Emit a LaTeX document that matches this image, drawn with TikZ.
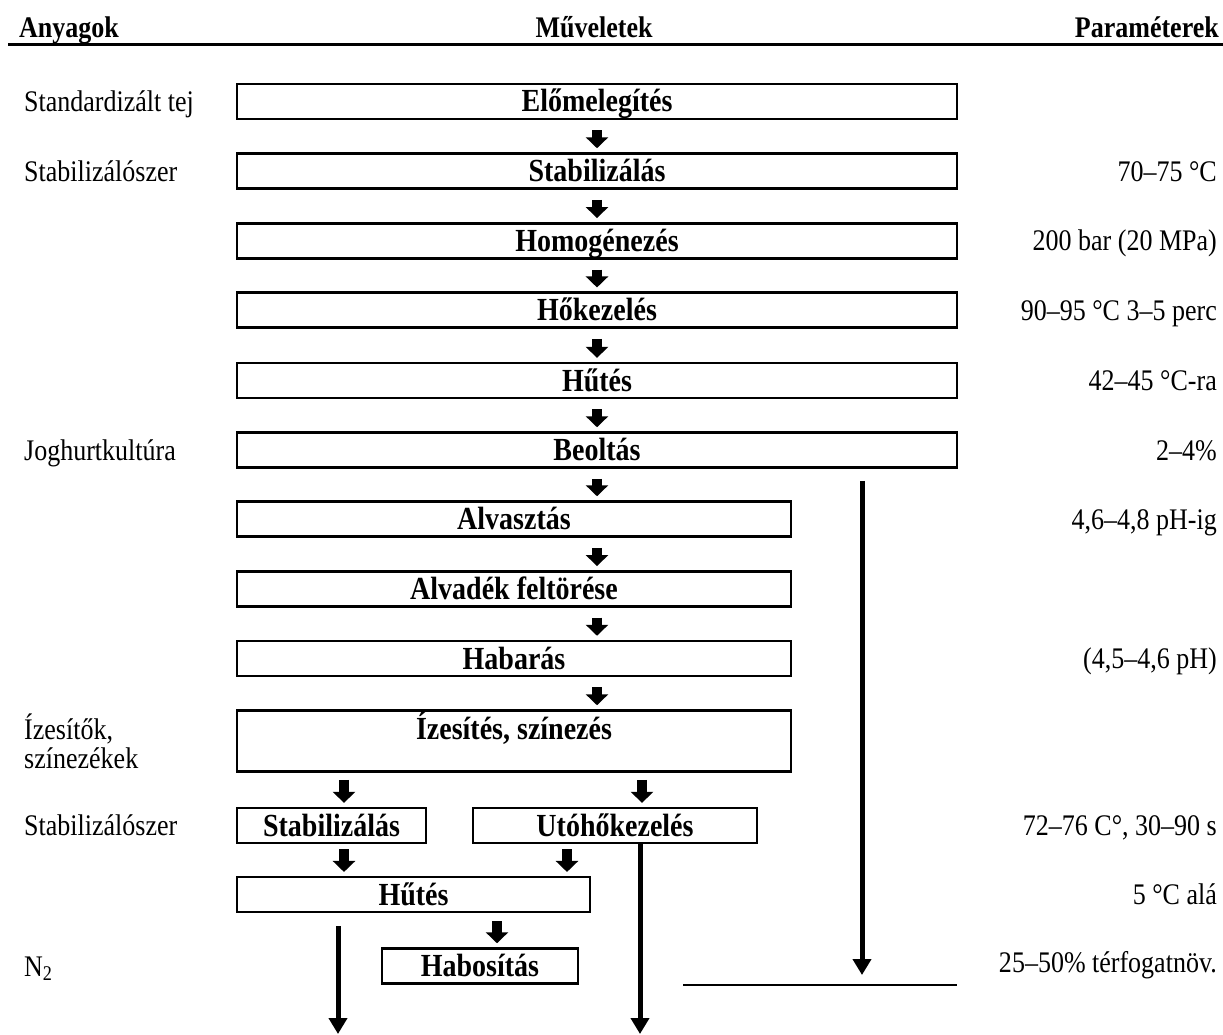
\documentclass[tikz,border=0pt]{standalone}
\usepackage{fontspec}
\setmainfont{Liberation Serif}
\usepackage{graphicx}
\usetikzlibrary{arrows.meta}
\newcommand\vs[1]{\scalebox{1}[1.15]{#1}}
\begin{document}
\begin{tikzpicture}[x=1pt,y=-1pt,
  box/.style={draw,line width=2.5pt,rectangle,inner sep=0pt,minimum height=35pt,
    font=\fontsize{28}{32}\selectfont\bfseries,text height=21pt,text depth=0pt},
  boxtext/.style={font=\fontsize{28}{32}\selectfont\bfseries,inner sep=0pt},
  lab/.style={font=\fontsize{26}{30}\selectfont,inner sep=0pt},
  hdr/.style={font=\fontsize{26}{30}\selectfont\bfseries,inner sep=0pt},
  blk/.style={line width=10pt,-{Triangle[width=22pt,length=11pt]},shorten <=10pt,shorten >=4pt},
  longarr/.style={line width=5pt,-{Triangle[width=18pt,length=16pt]}},
]
\useasboundingbox (0,0) rectangle (1223,1034);

% header
\node[hdr,anchor=base west] (hA) at (19,37) {\vs{Anyagok}};
\node[hdr,anchor=base] (hM) at (594,37) {\vs{Műveletek}};
\node[hdr,anchor=base east] (hP) at (1219,37) {\vs{Paraméterek}};
\coordinate (l1) at (8,44.7);
\coordinate (l2) at (1223,44.7);
\draw[line width=3.5pt] (l1) -- (l2);

% main boxes
\node[box,minimum width=720pt] (b1) at (597,101.3) {\vs{Előmelegítés}};
\node[box,minimum width=720pt] (b2) at (597,171) {\vs{Stabilizálás}};
\node[box,minimum width=720pt] (b3) at (597,240.8) {\vs{Homogénezés}};
\node[box,minimum width=720pt] (b4) at (597,310.2) {\vs{Hőkezelés}};
\node[box,minimum width=720pt] (b5) at (597,380.6) {\vs{Hűtés}};
\node[box,minimum width=720pt] (b6) at (597,450) {\vs{Beoltás}};
\node[box,minimum width=554pt] (b7) at (514,519) {\vs{Alvasztás}};
\node[box,minimum width=554pt] (b8) at (514,588.8) {\vs{Alvadék feltörése}};
\node[box,minimum width=554pt] (b9) at (514,658.5) {\vs{Habarás}};
\node[box,minimum width=554pt,minimum height=61pt] (b10) at (514,741) {};
\node[boxtext,anchor=base] (b10t) at (514,739.6) {\vs{Ízesítés, színezés}};
\node[box,minimum width=189pt] (b11) at (331.5,825.6) {\vs{Stabilizálás}};
\node[box,minimum width=284pt] (b12) at (615,825.6) {\vs{Utóhőkezelés}};
\node[box,minimum width=353pt] (b13) at (413.5,894.7) {\vs{Hűtés}};
\node[box,minimum width=196pt] (b14) at (480,966) {\vs{Habosítás}};

% column coordinates
\coordinate (ax) at (597,0);
\coordinate (c1) at (344,0);
\coordinate (c2) at (642,0);
\coordinate (c3) at (567,0);
\coordinate (c4) at (497,0);
\coordinate (e1) at (338,1034);
\coordinate (e2) at (640,1034);
\coordinate (e3) at (862,975);
\coordinate (h1) at (683,985);
\coordinate (h2) at (957,985);

% block arrows
\draw[blk] (b1.south) -- (b2.north);
\draw[blk] (b2.south) -- (b3.north);
\draw[blk] (b3.south) -- (b4.north);
\draw[blk] (b4.south) -- (b5.north);
\draw[blk] (b5.south) -- (b6.north);
\draw[blk] (b6.south) -- (b6.south |- b7.north);
\draw[blk] (b7.south -| ax) -- (b8.north -| ax);
\draw[blk] (b8.south -| ax) -- (b9.north -| ax);
\draw[blk] (b9.south -| ax) -- (b10.north -| ax);
\draw[blk,shorten <=7pt] (b10.south -| c1) -- (b11.north -| c1);
\draw[blk,shorten <=7pt] (b10.south -| c2) -- (b12.north -| c2);
\draw[blk,shorten <=5pt] (b11.south -| c1) -- (b13.north -| c1);
\draw[blk,shorten <=5pt] (b12.south -| c3) -- (b13.north -| c3);
\draw[blk,shorten <=8pt] (b13.south -| c4) -- (b14.north -| c4);

% long arrows
\draw[longarr,shorten <=13pt] (b13.south -| e1) -- (e1);
\draw[longarr] (b12.south -| e2) -- (e2);
\draw[longarr,shorten <=12pt] (b6.south -| e3) -- (e3);
\draw[line width=2.5pt] (h1) -- (h2);

% materials
\node[lab,anchor=base west] (m1) at (24,111.2) {\vs{Standardizált tej}};
\node[lab,anchor=base west] (m2) at (24,181) {\vs{Stabilizálószer}};
\node[lab,anchor=base west] (m3) at (24,460) {\vs{Joghurtkultúra}};
\node[lab,anchor=base west,font=\fontsize{26}{24.3}\selectfont] (m4) at (24,739) {\vs{\begin{tabular}[t]{@{}l@{}}Ízesítők,\\színezékek\end{tabular}}};
\node[lab,anchor=base west] (m5) at (24,835.5) {\vs{Stabilizálószer}};
\node[lab,anchor=base west] (m6) at (24,976) {\vs{N\textsubscript{2}}};

% parameters
\node[lab,anchor=base east] (p2) at (1217,181) {\vs{70–75 °C}};
\node[lab,anchor=base east] (p3) at (1217,250.7) {\vs{200 bar (20 MPa)}};
\node[lab,anchor=base east] (p4) at (1217,320) {\vs{90–95 °C 3–5 perc}};
\node[lab,anchor=base east] (p5) at (1217,390.5) {\vs{42–45 °C-ra}};
\node[lab,anchor=base east] (p6) at (1217,460) {\vs{2–4\%}};
\node[lab,anchor=base east] (p7) at (1217,529) {\vs{4,6–4,8 pH-ig}};
\node[lab,anchor=base east] (p9) at (1217,668.4) {\vs{(4,5–4,6 pH)}};
\node[lab,anchor=base east] (p11) at (1217,835.5) {\vs{72–76 C°, 30–90 s}};
\node[lab,anchor=base east] (p13) at (1217,904.6) {\vs{5 °C alá}};
\node[lab,anchor=base east] (p14) at (1217,972) {\vs{25–50\% térfogatnöv.}};
\end{tikzpicture}
\end{document}
